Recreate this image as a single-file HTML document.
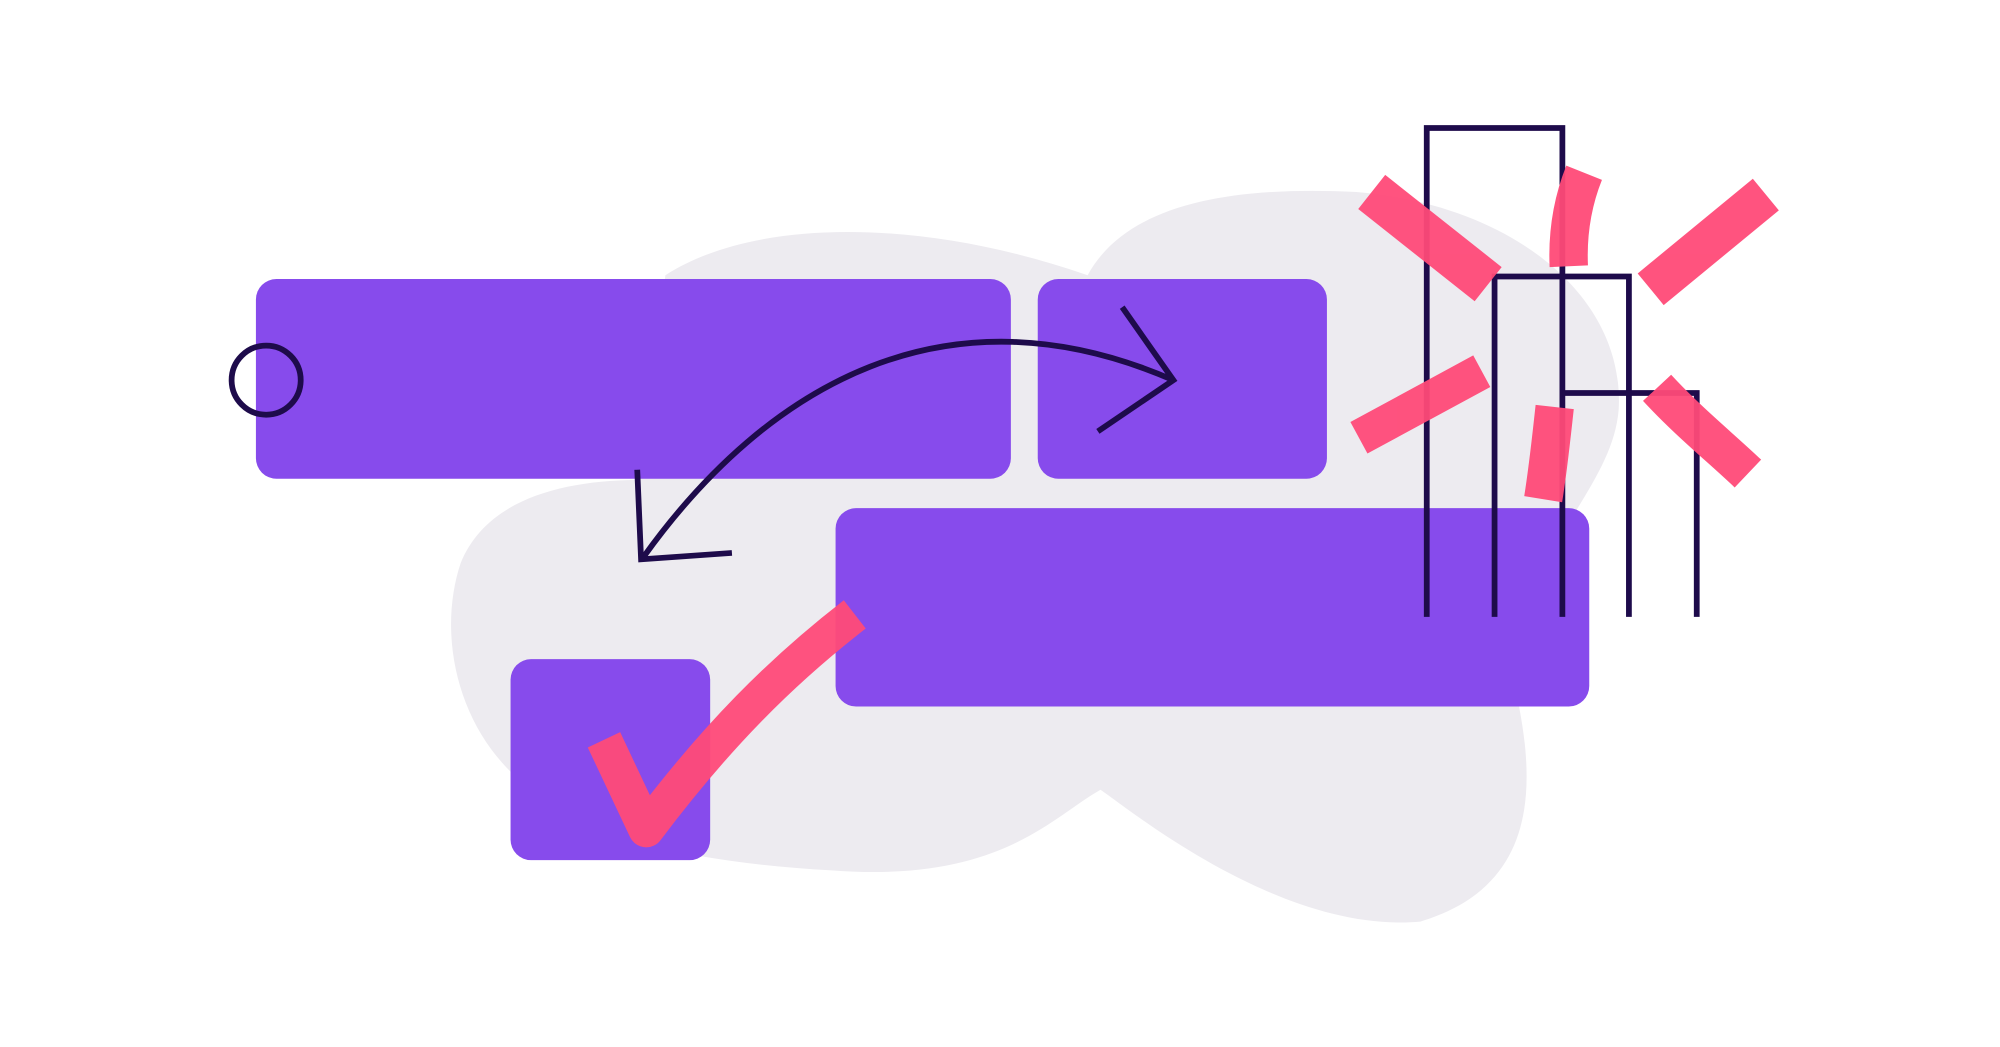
<!DOCTYPE html>
<html><head><meta charset="utf-8"><style>html,body{margin:0;padding:0;background:#fff;}svg{display:block}</style></head>
<body>
<svg width="2000" height="1047" viewBox="0 0 1563 818" preserveAspectRatio="none" xmlns="http://www.w3.org/2000/svg">
<rect width="1563" height="818" fill="#fff"/>
<path d="M520,215 C590,170 720,170 850,215 C880,160 960,145 1060,150 C1180,160 1270,230 1265,320 C1260,380 1200,420 1180,520 C1200,600 1210,690 1110,720 C1000,730 880,630 860,617 C820,640 780,690 650,680 C560,675 470,660 420,620 C360,580 340,500 360,440 C380,390 440,375 500,375 Z" fill="#edebf0"/>
<g fill="#874bec">
<rect x="200" y="218" width="590" height="156" rx="16"/>
<rect x="811" y="218" width="226" height="156" rx="16"/>
<rect x="653" y="397" width="589" height="155" rx="16"/>
<rect x="399" y="515" width="156" height="157" rx="16"/>
</g>
<g fill="none" stroke="#1e0b4b" stroke-width="4.5">
<circle cx="208" cy="297" r="27"/>
<path d="M503,435 C600,300 740,220 917,297"/>
<path d="M877,240 L917,297 L858,337"/>
<path d="M498,367 L501,437 L572,432"/>
<path d="M1115,482 V100 H1221 V482"/>
<path d="M1168,482 V216 H1273 V482"/>
<path d="M1221,307 H1326 V482"/>
</g>
<g fill="none" stroke="#ff4a78" stroke-linejoin="round" opacity="0.95">
<path d="M472,578 L505,648 C560,575 610,525 668,480" stroke-width="28"/>
<path d="M1072,150 L1163,222" stroke-width="34"/>
<path d="M1238,135 C1228,160 1225,185 1226,208" stroke-width="30"/>
<path d="M1380,152 L1290,226" stroke-width="32"/>
<path d="M1062,342 L1158,290" stroke-width="28"/>
<path d="M1215,318 C1212,345 1210,365 1206,390" stroke-width="30"/>
<path d="M1295,303 C1320,330 1345,350 1366,370" stroke-width="30"/>
</g>
</svg>
</body></html>
